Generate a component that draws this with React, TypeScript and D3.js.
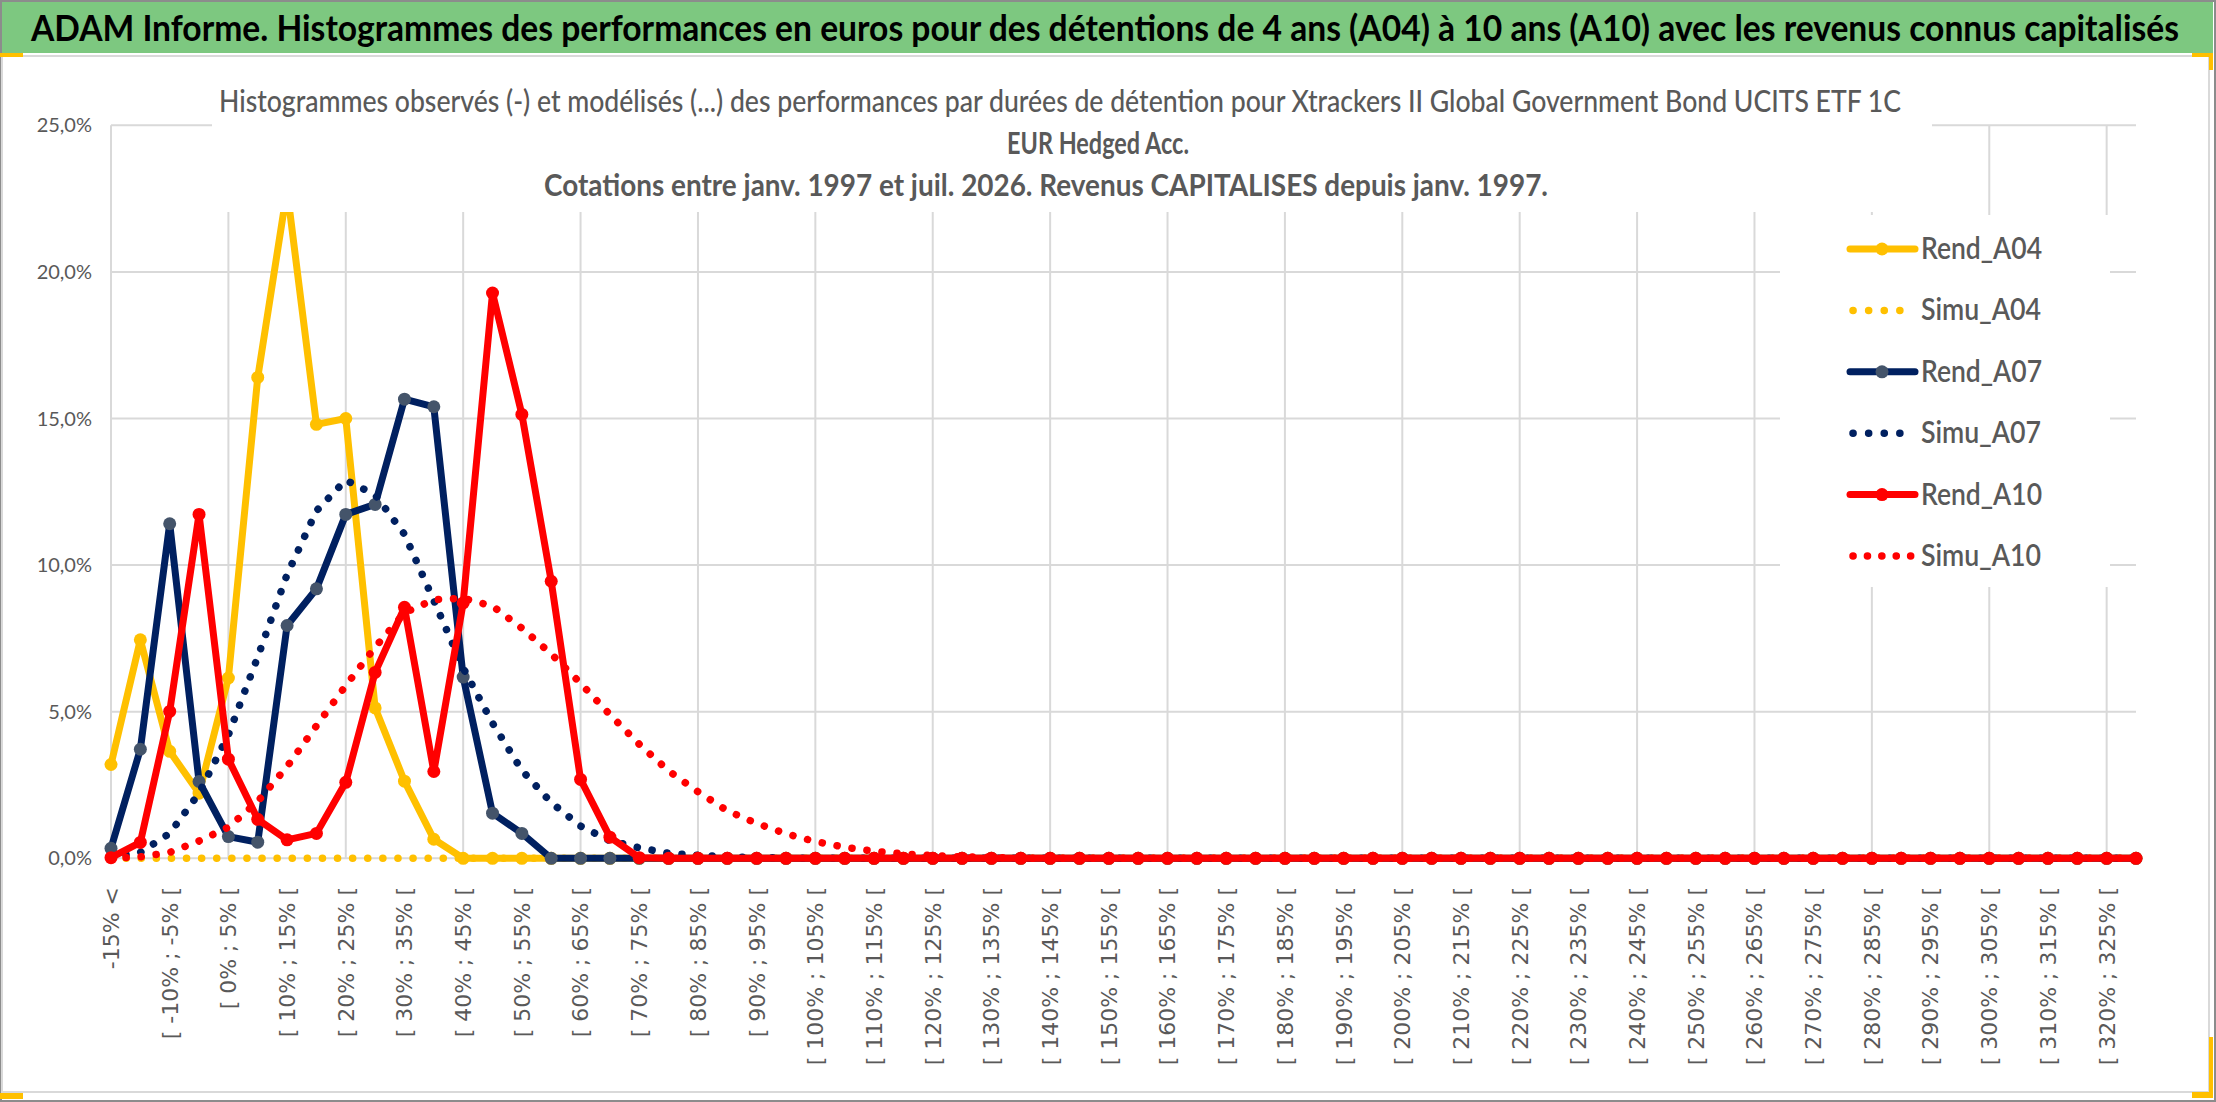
import React from 'react';
import * as d3 from 'd3';

const categories = [
  '-15% <', '[ -15% ; -10% [', '[ -10% ; -5% [', '[ -5% ; 0% [',
  '[ 0% ; 5% [', '[ 5% ; 10% [', '[ 10% ; 15% [', '[ 15% ; 20% [', '[ 20% ; 25% [', '[ 25% ; 30% [',
  '[ 30% ; 35% [', '[ 35% ; 40% [', '[ 40% ; 45% [', '[ 45% ; 50% [', '[ 50% ; 55% [', '[ 55% ; 60% [',
  '[ 60% ; 65% [', '[ 65% ; 70% [', '[ 70% ; 75% [', '[ 75% ; 80% [', '[ 80% ; 85% [', '[ 85% ; 90% [',
  '[ 90% ; 95% [', '[ 95% ; 100% [', '[ 100% ; 105% [', '[ 105% ; 110% [', '[ 110% ; 115% [', '[ 115% ; 120% [',
  '[ 120% ; 125% [', '[ 125% ; 130% [', '[ 130% ; 135% [', '[ 135% ; 140% [', '[ 140% ; 145% [', '[ 145% ; 150% [',
  '[ 150% ; 155% [', '[ 155% ; 160% [', '[ 160% ; 165% [', '[ 165% ; 170% [', '[ 170% ; 175% [', '[ 175% ; 180% [',
  '[ 180% ; 185% [', '[ 185% ; 190% [', '[ 190% ; 195% [', '[ 195% ; 200% [', '[ 200% ; 205% [', '[ 205% ; 210% [',
  '[ 210% ; 215% [', '[ 215% ; 220% [', '[ 220% ; 225% [', '[ 225% ; 230% [', '[ 230% ; 235% [', '[ 235% ; 240% [',
  '[ 240% ; 245% [', '[ 245% ; 250% [', '[ 250% ; 255% [', '[ 255% ; 260% [', '[ 260% ; 265% [', '[ 265% ; 270% [',
  '[ 270% ; 275% [', '[ 275% ; 280% [', '[ 280% ; 285% [', '[ 285% ; 290% [', '[ 290% ; 295% [', '[ 295% ; 300% [',
  '[ 300% ; 305% [', '[ 305% ; 310% [', '[ 310% ; 315% [', '[ 315% ; 320% [', '[ 320% ; 325% [', '[ 325% ; 330% [',
];

// values in percent
const rendA04 = [
  3.2, 7.45, 3.65, 2.22, 6.15, 16.4, 22.8, 14.8, 15.0, 5.13,
  2.63, 0.65, 0, 0, 0, 0, 0, 0, 0, 0,
  0, 0, 0, 0, 0, 0, 0, 0, 0, 0,
  0, 0, 0, 0, 0, 0, 0, 0, 0, 0,
  0, 0, 0, 0, 0, 0, 0, 0, 0, 0,
  0, 0, 0, 0, 0, 0, 0, 0, 0, 0,
  0, 0, 0, 0, 0, 0, 0, 0, 0, 0,
];
const simuA04 = [
  0, 0, 0, 0, 0, 0, 0, 0, 0, 0,
  0, 0, 0, 0, 0, 0, 0, 0, 0, 0,
  0, 0, 0, 0, 0, 0, 0, 0, 0, 0,
  0, 0, 0, 0, 0, 0, 0, 0, 0, 0,
  0, 0, 0, 0, 0, 0, 0, 0, 0, 0,
  0, 0, 0, 0, 0, 0, 0, 0, 0, 0,
  0, 0, 0, 0, 0, 0, 0, 0, 0, 0,
];
const rendA07 = [
  0.34, 3.72, 11.41, 2.62, 0.74, 0.55, 7.94, 9.19, 11.73, 12.07,
  15.66, 15.4, 6.18, 1.54, 0.85, 0, 0, 0, 0, 0,
  0, 0, 0, 0, 0, 0, 0, 0, 0, 0,
  0, 0, 0, 0, 0, 0, 0, 0, 0, 0,
  0, 0, 0, 0, 0, 0, 0, 0, 0, 0,
  0, 0, 0, 0, 0, 0, 0, 0, 0, 0,
  0, 0, 0, 0, 0, 0, 0, 0, 0, 0,
];
const simuA07 = [
  0.05, 0.2, 0.85, 2.22, 4.21, 6.87, 9.68, 11.85, 12.9, 12.4,
  11.05, 8.79, 6.49, 4.61, 3.0, 1.9, 1.1, 0.6, 0.36, 0.17,
  0.1, 0.05, 0.02, 0.01, 0, 0, 0, 0, 0, 0,
  0, 0, 0, 0, 0, 0, 0, 0, 0, 0,
  0, 0, 0, 0, 0, 0, 0, 0, 0, 0,
  0, 0, 0, 0, 0, 0, 0, 0, 0, 0,
  0, 0, 0, 0, 0, 0, 0, 0, 0, 0,
];
const rendA10 = [
  0.02, 0.54, 5.01, 11.73, 3.38, 1.33, 0.63, 0.85, 2.59, 6.34,
  8.56, 2.96, 8.71, 19.28, 15.14, 9.45, 2.69, 0.72, 0.02, 0,
  0, 0, 0, 0, 0, 0, 0, 0, 0, 0,
  0, 0, 0, 0, 0, 0, 0, 0, 0, 0,
  0, 0, 0, 0, 0, 0, 0, 0, 0, 0,
  0, 0, 0, 0, 0, 0, 0, 0, 0, 0,
  0, 0, 0, 0, 0, 0, 0, 0, 0, 0,
];
const simuA10 = [
  0, 0.05, 0.2, 0.59, 1.06, 1.94, 3.13, 4.52, 5.89, 7.2,
  8.37, 8.82, 8.87, 8.6, 7.85, 6.97, 5.97, 4.9, 3.89, 2.98,
  2.27, 1.62, 1.19, 0.84, 0.57, 0.38, 0.24, 0.15, 0.09, 0.05,
  0.03, 0.01, 0, 0, 0, 0, 0, 0, 0, 0,
  0, 0, 0, 0, 0, 0, 0, 0, 0, 0,
  0, 0, 0, 0, 0, 0, 0, 0, 0, 0,
  0, 0, 0, 0, 0, 0, 0, 0, 0, 0,
];

const yTicks = [0, 5, 10, 15, 20, 25];

const titleText =
  'ADAM Informe. Histogrammes des performances en euros pour des détentions de 4 ans (A04) à 10 ans (A10) avec les revenus connus capitalisés';
const subtitle1 =
  'Histogrammes observés (-) et modélisés (...) des performances par durées de détention pour Xtrackers II Global Government Bond UCITS ETF 1C';
const subtitle2 = 'EUR Hedged Acc.';
const subtitle3 = 'Cotations entre janv. 1997 et juil. 2026. Revenus CAPITALISES depuis janv. 1997.';

const series = [
  { name: 'Rend_A04', values: rendA04, color: '#FFC000', marker: '#FFC000', dotted: false },
  { name: 'Simu_A04', values: simuA04, color: '#FFC000', marker: null, dotted: true },
  { name: 'Rend_A07', values: rendA07, color: '#002060', marker: '#44546A', dotted: false },
  { name: 'Simu_A07', values: simuA07, color: '#002060', marker: null, dotted: true },
  { name: 'Rend_A10', values: rendA10, color: '#FF0000', marker: '#FF0000', dotted: false },
  { name: 'Simu_A10', values: simuA10, color: '#FF0000', marker: null, dotted: true },
];

const W = 2216;
const H = 1102;
const PL = 111;
const PR = 2136;
const PT = 125.3;
const PB = 858.3;
const GRID = '#d9d9d9';
const TXT = '#595959';
const SANS = 'Lato, "Open Sans", sans-serif';

export default function App() {
  const x = d3.scalePoint<string>().domain(categories).range([PL, PR]);
  const y = d3.scaleLinear().domain([0, 25]).range([PB, PT]);
  const fmt = d3
    .formatLocale({ decimal: ',', thousands: '\u00a0', grouping: [3], currency: ['', ' €'] })
    .format('.1%');
  const line = d3
    .line<number>()
    .x((_, i) => x(categories[i]) as number)
    .y((d) => y(d));

  const gridCats = categories.filter((_, i) => i % 4 === 0);
  const labelCats = categories.filter((_, i) => i % 2 === 0);

  const legendX0 = 1850;
  const legendX1 = 1915;
  const legendTop = 249;
  const legendStep = 61.4;

  return (
    <svg
      width={W}
      height={H}
      viewBox={`0 0 ${W} ${H}`}
      style={{ position: 'absolute', left: 0, top: 0, display: 'block', background: '#fff' }}
    >
      {/* frame */}
      <rect x={0} y={0} width={W} height={H} fill="#ffffff" />
      <rect x={1} y={1} width={W - 2} height={H - 2} fill="none" stroke="#8c8c8c" strokeWidth={2} />
      <rect x={2} y={2} width={2211} height={51} fill="#7DC880" />
      <rect x={2} y={56} width={2207} height={1036} fill="#ffffff" stroke={GRID} strokeWidth={2} />
      <text
        transform="translate(31,41) scale(1,1.12)"
        x={0}
        y={0}
        fontFamily={SANS}
        fontWeight={700}
        fontSize={33}
        fill="#000"
        textLength={2148}
        lengthAdjust="spacingAndGlyphs"
      >
        {titleText}
      </text>

      {/* gridlines */}
      <g>
        {yTicks.map((t) => (
          <line key={'h' + t} x1={PL} x2={PR} y1={y(t)} y2={y(t)} stroke={GRID} strokeWidth={2} />
        ))}
        {gridCats.map((c) => (
          <line key={'v' + c} x1={x(c)} x2={x(c)} y1={PT} y2={PB} stroke={GRID} strokeWidth={2} />
        ))}
      </g>

      {/* y tick labels */}
      <g fontFamily={SANS} fontSize={20} fill={TXT} textAnchor="end">
        {yTicks.map((t) => (
          <text key={'yl' + t} x={92} y={y(t)} dy="0.35em">
            {fmt(t / 100)}
          </text>
        ))}
      </g>

      {/* x tick labels */}
      <g fontFamily='"DejaVu Sans", Verdana, sans-serif' fontSize={22} fill={TXT} textAnchor="end">
        {labelCats.map((c) => (
          <text key={'xl' + c} transform={`translate(${x(c)},887) rotate(-90)`} dy="0.36em">
            {c}
          </text>
        ))}
      </g>

      {/* series */}
      {series.map((s) => (
        <g key={s.name}>
          <path
            d={line(s.values) || ''}
            fill="none"
            stroke={s.color}
            strokeWidth={s.dotted ? 7.5 : 7}
            strokeLinecap="round"
            strokeLinejoin="round"
            strokeDasharray={s.dotted ? '0.1 15' : undefined}
          />
          {s.marker &&
            s.values.map((v, i) => (
              <circle key={i} cx={x(categories[i])} cy={y(v)} r={6.5} fill={s.marker} />
            ))}
        </g>
      ))}

      {/* chart title box (covers plot) */}
      <rect x={212} y={60} width={1720} height={152} fill="#ffffff" />
      <g fontFamily={SANS} fill={TXT} fontSize={30}>
        <text x={219} y={112} fontWeight={500} textLength={1682} lengthAdjust="spacingAndGlyphs">
          {subtitle1}
        </text>
        <text x={1007} y={154} fontWeight={700} textLength={182} lengthAdjust="spacingAndGlyphs">
          {subtitle2}
        </text>
        <text x={544} y={196} fontWeight={700} textLength={1004} lengthAdjust="spacingAndGlyphs">
          {subtitle3}
        </text>
      </g>

      {/* legend */}
      <rect x={1780} y={215} width={330} height={372} fill="#ffffff" />
      {series.map((s, i) => {
        const ly = legendTop + i * legendStep;
        return (
          <g key={'lg' + s.name}>
            <line
              x1={s.dotted ? legendX0 + 3 : legendX0}
              x2={s.dotted ? (s.name === 'Simu_A10' ? 1912 : 1900) : legendX1}
              y1={ly}
              y2={ly}
              stroke={s.color}
              strokeWidth={s.dotted ? 7.5 : 7}
              strokeLinecap="round"
              strokeDasharray={s.dotted ? (s.name === 'Simu_A10' ? '0.1 14.3' : '0.1 15.5') : undefined}
            />
            {s.marker && <circle cx={1882} cy={ly} r={6.5} fill={s.marker} />}
            <text
              x={1921}
              y={ly + 10}
              fontFamily={SANS}
              fontWeight={600}
              fontSize={30}
              fill={TXT}
              textLength={s.name.startsWith('Rend') ? 121 : 120}
              lengthAdjust="spacingAndGlyphs"
            >
              {s.name}
            </text>
          </g>
        );
      })}

      {/* selection corner marks */}
      <g fill="#FFC000">
        <rect x={0} y={53} width={23} height={4} />
        <rect x={2192} y={53} width={21} height={4} />
        <rect x={2209} y={53} width={4} height={17} />
        <rect x={0} y={1093} width={23} height={6} />
        <rect x={2192} y={1092} width={21} height={6} />
        <rect x={2209} y={1037} width={4} height={61} />
      </g>
    </svg>
  );
}
